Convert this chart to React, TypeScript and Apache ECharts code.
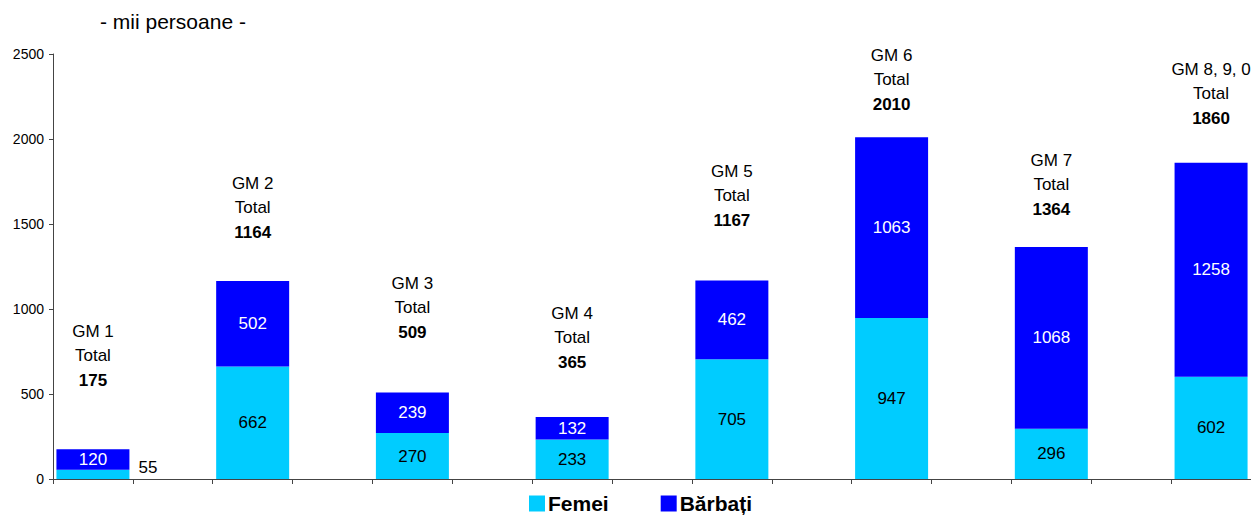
import React, { useEffect, useRef } from "react";
import * as echarts from "echarts";

const groups = ["GM 1", "GM 2", "GM 3", "GM 4", "GM 5", "GM 6", "GM 7", "GM 8, 9, 0"];
const femei = [55, 662, 270, 233, 705, 947, 296, 602];
const barbati = [120, 502, 239, 132, 462, 1063, 1068, 1258];
const totals = [175, 1164, 509, 365, 1167, 2010, 1364, 1860];
// vertical anchor (data units) of each "GM / Total / value" annotation
const annotationY = [720, 1590, 1005, 824, 1659, 2347, 1729, 2259];
const yTicks = [0, 500, 1000, 1500, 2000, 2500];
const legendNames = ["Femei", "Bărbați"];

const FONT = 'Arial, "Liberation Sans", sans-serif';

export default function App() {
  const ref = useRef<HTMLDivElement>(null);
  useEffect(() => {
    if (!ref.current) return;
    const chart = echarts.init(ref.current, null, { renderer: "svg" });
    // 15 slots: groups in even slots, empty gaps in odd slots
    const slots: string[] = [];
    const femeiData: any[] = [];
    const barbatiData: any[] = [];
    const annData: any[] = [];
    groups.forEach((g, i) => {
      const slot = slots.length;
      slots.push(g);
      if (i === 0) {
        femeiData.push({
          value: femei[i],
          label: { position: "right", distance: 9, offset: [0, -7], color: "#000" },
        });
      } else {
        femeiData.push(femei[i]);
      }
      barbatiData.push(barbati[i]);
      annData.push({ value: [slot, annotationY[i]], name: g, total: totals[i] });
      if (i < groups.length - 1) {
        slots.push("gap" + i);
        femeiData.push("-");
        barbatiData.push("-");
      }
    });

    chart.setOption({
      animation: false,
      textStyle: { fontFamily: FONT },
      title: {
        text: "- mii persoane -",
        left: 100,
        top: 11,
        padding: 0,
        textStyle: { fontFamily: FONT, fontSize: 21, fontWeight: "normal", color: "#000" },
      },
      legend: {
        data: legendNames,
        left: 529,
        top: 493,
        padding: 0,
        itemWidth: 16,
        itemHeight: 16,
        itemGap: 52,
        icon: "rect",
        textStyle: { fontFamily: FONT, fontSize: 21, fontWeight: "bold", color: "#000", padding: [0, 0, 0, -2] },
      },
      grid: { left: 53, top: 54, width: 1200, height: 425, containLabel: false },
      xAxis: {
        type: "category",
        data: slots,
        boundaryGap: true,
        axisLine: { lineStyle: { color: "#444", width: 1 } },
        axisTick: { show: true, interval: 0, length: 5, lineStyle: { color: "#444" } },
        axisLabel: { show: false },
        splitLine: { show: false },
      },
      yAxis: {
        type: "value",
        min: yTicks[0],
        max: yTicks[yTicks.length - 1],
        interval: yTicks[1] - yTicks[0],
        axisLine: { show: true, lineStyle: { color: "#444", width: 1 } },
        axisTick: { show: true, length: 4, lineStyle: { color: "#444" } },
        axisLabel: {
          color: "#000",
          fontSize: 14,
          fontFamily: FONT,
          margin: 9,
          formatter: (v: number) => String(v),
        },
        splitLine: { show: false },
      },
      series: [
        {
          name: legendNames[0],
          type: "bar",
          stack: "t",
          barWidth: 73,
          data: femeiData,
          itemStyle: { color: "#00CCFF" },
          label: { show: true, position: "inside", color: "#000", fontSize: 17, fontFamily: FONT },
        },
        {
          name: legendNames[1],
          type: "bar",
          stack: "t",
          barWidth: 73,
          data: barbatiData,
          itemStyle: { color: "#0000FF" },
          label: { show: true, position: "inside", color: "#fff", fontSize: 17, fontFamily: FONT },
        },
        {
          name: "annotations",
          type: "scatter",
          data: annData,
          symbol: "circle",
          symbolSize: 1,
          itemStyle: { color: "rgba(0,0,0,0)" },
          silent: true,
          label: {
            show: true,
            position: "inside",
            align: "center",
            verticalAlign: "middle",
            color: "#000",
            opacity: 1,
            formatter: (p: any) => `{n|${p.data.name}}\n{n|Total}\n{b|${p.data.total}}`,
            rich: {
              n: { fontSize: 17, fontFamily: FONT, color: "#000", lineHeight: 24 },
              b: { fontSize: 17, fontFamily: FONT, color: "#000", fontWeight: "bold", lineHeight: 26 },
            },
          },
        },
      ],
    });
    return () => chart.dispose();
  }, []);
  return (
    <div
      ref={ref}
      style={{ position: "fixed", left: 0, top: 0, width: 1251, height: 515, background: "#fff" }}
    />
  );
}
